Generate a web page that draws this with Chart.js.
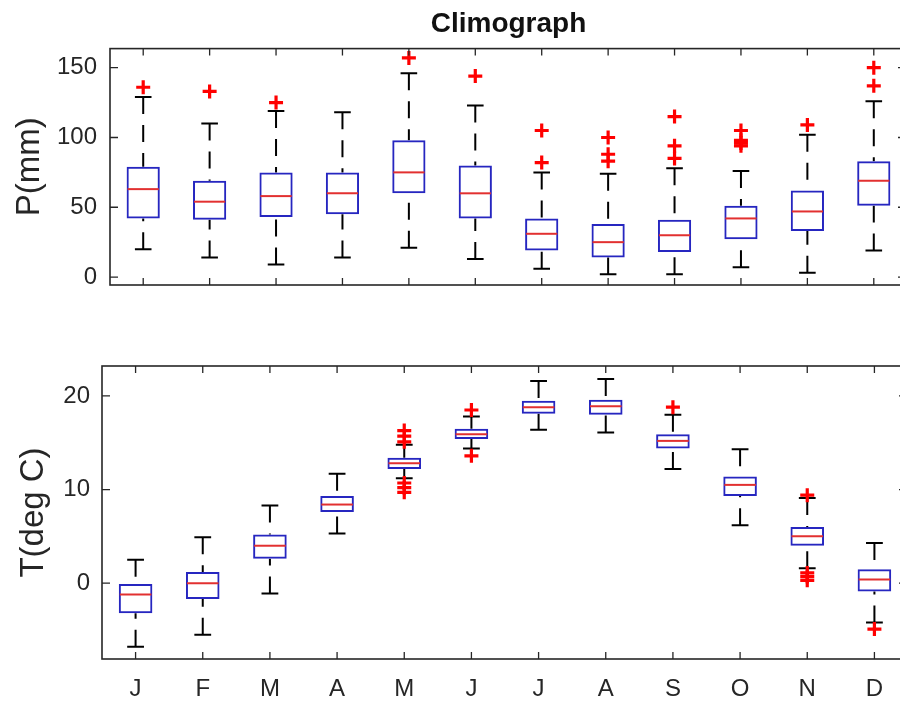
<!DOCTYPE html>
<html><head><meta charset="utf-8">
<script src="https://cdn.jsdelivr.net/npm/chart.js@4.4.0/dist/chart.umd.min.js"></script>
<style>
html,body{margin:0;padding:0;background:#fff;overflow:hidden;width:900px;height:702px;}
#wrapTop{position:absolute;left:0;top:0;width:920px;height:320px;}
#wrapBot{position:absolute;left:0;top:320px;width:920px;height:382px;}
canvas{display:block;}
</style></head><body>
<div id="wrapTop"><canvas id="cTop" width="920" height="320" style="width:920px;height:320px"></canvas></div>
<div id="wrapBot"><canvas id="cBot" width="920" height="382" style="width:920px;height:382px"></canvas></div>
<script>
// ---- data ----
const months = ['J','F','M','A','M','J','J','A','S','O','N','D'];

const pTicks = [0, 50, 100, 150];
const pLow  = [20, 14, 9, 14, 21, 13, 6, 2, 2, 7, 3, 19];
const pQ1   = [42, 41, 43, 45, 60, 42, 19, 14, 18, 27, 33, 51];
const pMed  = [63, 54, 58, 60, 75, 60, 31, 25, 30, 42, 47, 69];
const pQ3   = [79, 69, 75, 75, 98, 80, 42, 38, 41, 51, 62, 83];
const pHigh = [129, 110, 119, 118, 146, 123, 75, 74, 78, 76, 102, 126];
const pOut  = [[136], [133], [125], [], [157], [144], [105, 82], [100, 88, 83], [115, 94, 85], [105, 98, 96, 94], [109], [150, 137]];

const tTicks = [0, 10, 20];
const tLow  = [-6.8, -5.5, -1.1, 5.3, 11.2, 14.4, 16.4, 16.1, 12.2, 6.2, 1.6, -4.2];
const tQ1   = [-3.2, -1.7, 2.6, 7.6, 12.2, 15.4, 18.1, 18.0, 14.4, 9.3, 4.0, -0.9];
const tMed  = [-1.2, 0.0, 4.0, 8.4, 12.8, 15.9, 18.8, 18.9, 15.2, 10.5, 5.0, 0.4];
const tQ3   = [-0.1, 1.2, 5.2, 9.3, 13.4, 16.5, 19.5, 19.6, 15.9, 11.4, 6.0, 1.5];
const tHigh = [2.5, 4.9, 8.3, 11.7, 14.8, 17.8, 21.6, 21.8, 18.0, 14.3, 9.1, 4.3];
const tOut  = [[], [], [], [], [16.3, 15.7, 15.1, 10.7, 10.2, 9.7], [18.5, 13.6], [], [], [18.8], [], [9.4, 1.1, 0.7, 0.3], [-4.9]];

// ---- styles ----
const INK = '#262626', BLUE = '#2626c0', MEDRED = '#e23030', OUTRED = '#ff0000';
const FONT = "'Liberation Sans', Arial, Helvetica, sans-serif";

function boxParts(low, q1, med, q3, high) {
  return {
    id: 'boxparts',
    beforeDatasetsDraw(chart) {
      const ctx = chart.ctx, xs = chart.scales.x, ys = chart.scales.y;
      const capHalf = xs.getPixelForValue(1.125) - xs.getPixelForValue(1);
      ctx.save(); ctx.strokeStyle = '#000'; ctx.lineWidth = 2;
      for (let i = 0; i < months.length; i++) {
        const px = xs.getPixelForValue(i + 1);
        ctx.setLineDash([17, 11]); ctx.beginPath();
        ctx.moveTo(px, ys.getPixelForValue(high[i])); ctx.lineTo(px, ys.getPixelForValue(q3[i]));
        ctx.moveTo(px, ys.getPixelForValue(low[i])); ctx.lineTo(px, ys.getPixelForValue(q1[i]));
        ctx.stroke(); ctx.setLineDash([]); ctx.beginPath();
        ctx.moveTo(px - capHalf, ys.getPixelForValue(high[i])); ctx.lineTo(px + capHalf, ys.getPixelForValue(high[i]));
        ctx.moveTo(px - capHalf, ys.getPixelForValue(low[i])); ctx.lineTo(px + capHalf, ys.getPixelForValue(low[i]));
        ctx.stroke();
      }
      ctx.restore();
    },
    afterDatasetsDraw(chart) {
      const ctx = chart.ctx, xs = chart.scales.x, ys = chart.scales.y, a = chart.chartArea;
      const boxHalf = xs.getPixelForValue(1.25) - xs.getPixelForValue(1);
      ctx.save(); ctx.strokeStyle = MEDRED; ctx.lineWidth = 2;
      for (let i = 0; i < months.length; i++) {
        const px = xs.getPixelForValue(i + 1), py = ys.getPixelForValue(med[i]);
        ctx.beginPath(); ctx.moveTo(px - boxHalf + 1, py); ctx.lineTo(px + boxHalf - 1, py); ctx.stroke();
      }
      // axes box with inward ticks
      ctx.strokeStyle = INK; ctx.lineWidth = 1.6;
      ctx.strokeRect(a.left, a.top, a.right - a.left, a.bottom - a.top);
      ctx.lineWidth = 1.3; ctx.beginPath();
      xs.ticks.forEach(t => { const px = xs.getPixelForValue(t.value);
        ctx.moveTo(px, a.top); ctx.lineTo(px, a.top + 7); ctx.moveTo(px, a.bottom); ctx.lineTo(px, a.bottom - 7); });
      ys.ticks.forEach(t => { const py = ys.getPixelForValue(t.value);
        ctx.moveTo(a.left, py); ctx.lineTo(a.left + 8, py); ctx.moveTo(a.right, py); ctx.lineTo(a.right - 9, py); });
      ctx.stroke(); ctx.restore();
    }
  };
}

function makeChart(id, o) {
  const outPts = o.out.flatMap((arr, i) => arr.map(v => ({ x: i + 1, y: v })));
  const boxes = months.map((m, i) => ({ x: i + 1, y: [o.q1[i], o.q3[i]] }));
  return new Chart(document.getElementById(id), {
    type: 'bar',
    data: { datasets: [
      { type: 'scatter', data: outPts, pointStyle: 'cross', radius: 7, borderWidth: 3.2, borderColor: OUTRED, backgroundColor: OUTRED, order: 0 },
      { type: 'bar', data: boxes, backgroundColor: 'rgba(0,0,0,0)', borderColor: BLUE, borderWidth: 2, borderSkipped: false, barPercentage: 0.5, categoryPercentage: 1, order: 1 }
    ]},
    options: {
      responsive: false, animation: false, events: [],
      layout: { padding: { top: o.padTop, right: o.padRight, left: 0, bottom: 0 } },
      plugins: { legend: { display: false }, tooltip: { enabled: false },
        title: o.title ? { display: true, text: o.title, fullSize: false, color: '#111',
          font: { family: FONT, size: 28, weight: 'bold' }, padding: { top: 7, bottom: 8 } } : { display: false } },
      scales: {
        x: { type: 'linear', offset: false, min: 0.5, max: 12.5,
          grid: { display: false, drawTicks: false }, border: { display: false },
          afterBuildTicks: s => { s.ticks = months.map((m, i) => ({ value: i + 1 })); },
          ticks: { display: o.showX, autoSkip: false, maxRotation: 0, padding: 16, color: INK,
            font: { family: FONT, size: 24 }, callback: v => months[Math.round(v) - 1] },
          afterFit: s => { s.height = o.xh; } },
        y: { min: o.min, max: o.max,
          grid: { display: false, drawTicks: false }, border: { display: false },
          afterBuildTicks: s => { s.ticks = o.ticks.map(v => ({ value: v })); },
          ticks: { padding: o.tickPad, color: INK, font: { family: FONT, size: 24 } },
          title: { display: true, text: o.ylabel, color: INK, font: { family: FONT, size: 33 }, padding: { top: o.titlePad, bottom: 0 } },
          afterFit: s => { s.width = o.yw; } }
      }
    },
    plugins: [boxParts(o.low, o.q1, o.med, o.q3, o.high)]
  });
}

makeChart('cTop', { title: 'Climograph', low: pLow, q1: pQ1, med: pMed, q3: pQ3, high: pHigh, out: pOut,
  ticks: pTicks, min: -5.7, max: 163.7, ylabel: 'P(mm)', showX: false, xh: 35, yw: 110,
  padTop: 0, padRight: 13, tickPad: 13, titlePad: 10 });
makeChart('cBot', { title: null, low: tLow, q1: tQ1, med: tMed, q3: tQ3, high: tHigh, out: tOut,
  ticks: tTicks, min: -8.1, max: 23.2, ylabel: 'T(deg C)', showX: true, xh: 43, yw: 102,
  padTop: 46, padRight: 12, tickPad: 12, titlePad: 14 });
</script>
</body></html>
